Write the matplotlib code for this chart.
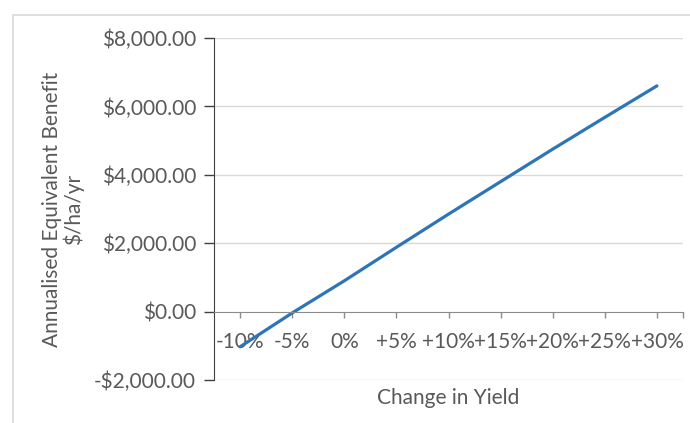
import matplotlib
matplotlib.use('Agg')
import matplotlib.pyplot as plt
from matplotlib.patches import Rectangle

##################################################
#################### DATA ########################
##################################################
categories = ['-10%', '-5%', '0%', '+5%', '+10%', '+15%', '+20%', '+25%', '+30%']
benefit = [-1030, -40, 900, 1880, 2850, 3800, 4750, 5680, 6600]
y_ticks = [-2000, 0, 2000, 4000, 6000, 8000]

TEXT = '#595959'
LINE = '#2E75B6'
GRID = '#d9d9d9'

plt.rcParams['font.family'] = ['Lato', 'DejaVu Sans']


def money(v):
    if v < 0:
        return f'-${-v:,.2f}'
    return f'${v:,.2f}'


def main():
    fig = plt.figure(figsize=(6.9, 4.23), dpi=100)
    fig.patches.append(Rectangle((13 / 690, -0.1), 1.2, 1 - 15 / 423 + 0.1,
                                 transform=fig.transFigure, fill=False,
                                 edgecolor=GRID, linewidth=1.2))
    ax = fig.add_axes([214 / 690, 1 - 380 / 423, 469 / 690, 342 / 423])

    x = range(len(categories))
    ax.plot(x, benefit, color=LINE, linewidth=2.3, solid_capstyle='round')

    ax.set_xlim(-0.5, 8.5)
    ax.set_ylim(-2000, 8000)
    ax.set_yticks(y_ticks)
    ax.set_yticklabels([money(v) for v in y_ticks])
    ax.set_xticks(list(x) + [8.5])
    ax.set_xticklabels(categories + [''])

    for v in y_ticks:
        if v != 0:
            ax.axhline(v, color=GRID, linewidth=1, zorder=0)

    for s in ['top', 'right']:
        ax.spines[s].set_visible(False)
    ax.spines['bottom'].set_position(('data', 0))
    ax.spines['bottom'].set_color('#8c8c8c')
    ax.spines['left'].set_color('#404040')

    ax.tick_params(axis='y', length=7, width=1, color='#404040',
                   labelsize=15, labelcolor=TEXT, pad=6)
    ax.tick_params(axis='x', length=4, width=1, color='#8c8c8c',
                   labelsize=15, labelcolor=TEXT, pad=11)

    ax.set_ylabel('Annualised Equivalent Benefit\n$/ha/yr', fontsize=15,
                  color=TEXT, linespacing=1.0)
    ax.yaxis.set_label_coords(-0.278, 0.5)
    fig.text(448 / 690, 1 - 398 / 423, 'Change in Yield', fontsize=15,
             color=TEXT, ha='center', va='center')

    fig.savefig('out.png', dpi=100)


if __name__ == '__main__':
    main()
